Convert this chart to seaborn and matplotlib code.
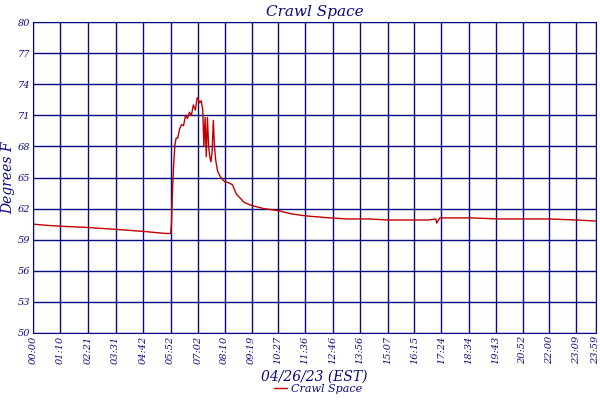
import matplotlib
matplotlib.use("Agg")
import matplotlib.pyplot as plt
import seaborn as sns
import pandas as pd

# minutes after midnight and temperature (deg F)
minutes = [0, 30, 70, 131, 211, 282, 340, 352, 354, 357, 360, 363, 366, 370, 375, 380, 385,
           390, 395, 400, 405, 410, 415, 420, 423, 426, 430, 434, 437, 440, 443, 446, 449,
           452, 455, 458, 461, 464, 467, 472, 480, 490, 500, 510, 520, 540, 559, 590, 627,
           660, 696, 760, 806, 860, 907, 975, 1010, 1030, 1032, 1040, 1080, 1123, 1192, 1264,
           1320, 1389, 1439]
temps = [60.5, 60.4, 60.3, 60.2, 60.0, 59.8, 59.6, 59.6, 60.5, 64.0, 66.5, 68.2, 68.8, 68.8,
         69.7, 70.1, 70.0, 71.0, 70.7, 71.3, 71.0, 72.0, 71.5, 72.7, 72.5, 72.2, 72.4, 71.5,
         68.0, 70.8, 67.0, 70.8, 68.0, 67.0, 66.5, 67.5, 70.5, 68.0, 66.7, 65.6, 65.0, 64.6,
         64.5, 64.3, 63.4, 62.6, 62.3, 62.0, 61.8, 61.5, 61.3, 61.1, 61.0, 61.0, 60.9, 60.9,
         60.9, 61.0, 60.6, 61.1, 61.1, 61.1, 61.0, 61.0, 61.0, 60.9, 60.8]
tick_labels = ["00:00", "01:10", "02:21", "03:31", "04:42", "05:52", "07:02", "08:10", "09:19",
               "10:27", "11:36", "12:46", "13:56", "15:07", "16:15", "17:24", "18:34", "19:43",
               "20:52", "22:00", "23:09", "23:59"]
y_ticks = [50, 53, 56, 59, 62, 65, 68, 71, 74, 77, 80]

df = pd.DataFrame({"minute": minutes, "temp": temps})
navy = "#0a0a80"

sns.set_style("white")
plt.rcParams["font.family"] = ["DejaVu Serif"]
fig, ax = plt.subplots(figsize=(6, 4), dpi=100)
fig.subplots_adjust(left=0.055, right=0.993, top=0.945, bottom=0.1675)

sns.lineplot(data=df, x="minute", y="temp", ax=ax, color="#c00000", linewidth=1,
             label="Crawl Space")

def to_min(s):
    h, m = s.split(":")
    return int(h) * 60 + int(m)

ax.set_xticks([to_min(t) for t in tick_labels])
ax.set_xticklabels(tick_labels, rotation=90, fontsize=7, color=navy, style="italic")
ax.set_yticks(y_ticks)
ax.set_yticklabels([str(v) for v in y_ticks], fontsize=7, color=navy, style="italic")
ax.set_xlim(0, 1439)
ax.set_ylim(50, 80)
ax.grid(True, color=navy, linewidth=1)
for s in ax.spines.values():
    s.set_color(navy)
ax.tick_params(length=0, pad=2)

ax.set_title("Crawl Space", color=navy, style="italic", fontsize=11, pad=4)
ax.set_xlabel("04/26/23 (EST)", color=navy, style="italic", fontsize=10, labelpad=4)
ax.set_ylabel("Degrees F", color=navy, style="italic", fontsize=10, labelpad=2)

handles, labels = ax.get_legend_handles_labels()
ax.get_legend().remove()
leg = fig.legend(handles, labels, loc="lower center", bbox_to_anchor=(0.53, -0.01),
                 frameon=False, fontsize=8, handlelength=1.2, handletextpad=0.3)
for t in leg.get_texts():
    t.set_color(navy)
    t.set_style("italic")

fig.savefig("out.png", dpi=100)
